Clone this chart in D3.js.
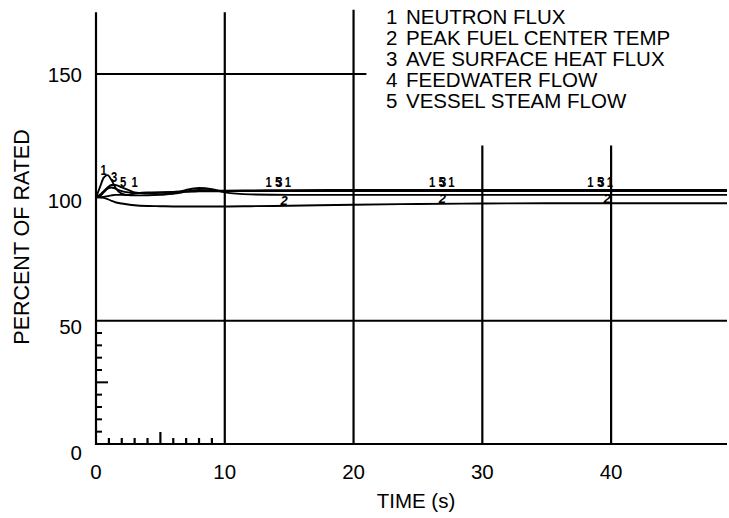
<!DOCTYPE html>
<html>
<head>
<meta charset="utf-8">
<style>
  body { margin: 0; background: #fff; }
  text { font-family: "Liberation Sans", Arial, sans-serif; fill: #000; }
</style>
</head>
<body>
<svg id="chart"></svg>
<script src="https://d3js.org/d3.v7.min.js"></script>
<script>
const width = 729;
const height = 518;

// time points (s) shared by every curve
const time = [0, 0.3, 0.6, 0.9, 1.2, 1.5, 2, 2.5, 3, 4, 5, 6, 7, 8, 9, 10, 12, 15, 20, 25, 30, 35, 40, 45, 49];

// percent of rated
const neutronFlux   = [100, 104, 108, 109, 107, 104, 101.5, 101, 101.5, 102, 102, 102.2, 102.4, 102.5, 102.6, 102.7, 102.8, 102.9, 103, 103, 103, 103, 103, 103, 103];
const peakFuelTemp  = [100, 100, 99.8, 99.3, 98.6, 98, 97.5, 97.1, 96.8, 96.5, 96.4, 96.3, 96.3, 96.3, 96.3, 96.3, 96.4, 96.6, 97, 97.3, 97.5, 97.6, 97.6, 97.6, 97.6];
const heatFlux      = [100, 100.5, 102, 103.5, 104, 103.5, 102.5, 102, 101.8, 101.8, 102, 102.2, 102.3, 102.4, 102.4, 102.5, 102.5, 102.6, 102.6, 102.7, 102.7, 102.7, 102.7, 102.7, 102.7];
const feedwaterFlow = [100, 100, 100.2, 100.5, 100.8, 101, 101, 100.9, 100.8, 100.8, 101, 101.5, 103, 103.8, 103.3, 102, 101.2, 101, 101, 101, 101, 101, 101, 101, 101];
const steamFlow     = [100, 101, 102.5, 104, 105, 105, 104, 103, 102, 101.5, 101.3, 101.5, 102.3, 103, 102.8, 102.5, 102.5, 102.5, 102.5, 102.5, 102.5, 102.5, 102.5, 102.5, 102.5];

const legendLabels = ["NEUTRON FLUX", "PEAK FUEL CENTER TEMP", "AVE SURFACE HEAT FLUX", "FEEDWATER FLOW", "VESSEL STEAM FLOW"];

// curve number tags drawn along the traces
const tagTimes  = [13.4, 26.1, 38.4];
const tagTimes2 = [14.6, 26.9, 39.7];

const xTicks = [0, 10, 20, 30, 40];
const yTicks = [0, 50, 100, 150];

// grid segments as drawn on the original sheet
const vGrid    = [0, 10, 20, 30, 40];
const vGridTop = [175, 175, 176, 121, 121];
const hGrid    = [0, 50, 150];
const hGridEnd = [49, 49, 21];

const series = [neutronFlux, peakFuelTemp, heatFlux, feedwaterFlow, steamFlow];

const svg = d3.select('#chart').attr('width', width).attr('height', height);

const x = d3.scaleLinear().domain([0, 49]).range([96, 727]);
const y = d3.scaleLinear().domain([0, 150]).range([444, 74]);
const yLabel = d3.scaleLinear().domain([0, 150]).range([453, 75]);
const fs = 20.5;

// grid
svg.selectAll('.vgrid').data(vGrid).enter().append('line')
    .attr('x1', d => x(d)).attr('x2', d => x(d))
    .attr('y1', y(0) + 1).attr('y2', (d, i) => y(vGridTop[i]))
    .attr('stroke', '#000').attr('stroke-width', 2.2);
svg.selectAll('.hgrid').data(hGrid).enter().append('line')
    .attr('x1', x(0)).attr('x2', (d, i) => x(hGridEnd[i]))
    .attr('y1', d => y(d)).attr('y2', d => y(d))
    .attr('stroke', '#000').attr('stroke-width', 2);

// minor ticks
const minorY = d3.range(5, 50, 5);
svg.selectAll('.ytick').data(minorY).enter().append('line')
    .attr('x1', x(0)).attr('x2', d => x(0) + (d === 25 ? 12 : 6))
    .attr('y1', d => y(d)).attr('y2', d => y(d))
    .attr('stroke', '#000').attr('stroke-width', 2);
const minorX = d3.range(1, 10);
svg.selectAll('.xtick').data(minorX).enter().append('line')
    .attr('x1', d => x(d)).attr('x2', d => x(d))
    .attr('y1', y(0)).attr('y2', d => y(0) - (d === 5 ? 12 : 6))
    .attr('stroke', '#000').attr('stroke-width', 2.2);

// tick labels
svg.selectAll('.xlab').data(xTicks).enter().append('text')
    .attr('x', d => x(d)).attr('y', 479)
    .attr('text-anchor', 'middle').attr('font-size', fs)
    .text(d => d);
svg.selectAll('.ylab').data(yTicks).enter().append('text')
    .attr('x', 82).attr('y', d => yLabel(d)).attr('dy', '0.35em')
    .attr('text-anchor', 'end').attr('font-size', fs)
    .text(d => d);

svg.append('text').attr('x', 416).attr('y', 508)
    .attr('text-anchor', 'middle').attr('font-size', fs)
    .text('TIME (s)');
svg.append('text')
    .attr('transform', 'translate(29,237) rotate(-90)')
    .attr('text-anchor', 'middle').attr('font-size', 21.5)
    .text('PERCENT OF RATED');

// curves
const line = d3.line()
    .x((d, i) => x(time[i]))
    .y(d => y(d))
    .curve(d3.curveMonotoneX);
svg.selectAll('.curve').data(series).enter().append('path')
    .attr('d', d => line(d))
    .attr('fill', 'none').attr('stroke', '#000').attr('stroke-width', 1.9);

// curve number tags
const valueAt = (s, t) => {
  const i = d3.bisectLeft(time, t);
  if (i <= 0) return s[0];
  const t0 = time[i - 1], t1 = time[i];
  return s[i - 1] + (s[i] - s[i - 1]) * (t - t0) / (t1 - t0);
};
const tags = [];
tagTimes.forEach(t => {
  tags.push({ n: 1, t: t });
  tags.push({ n: 5, t: t + 0.75 });
  tags.push({ n: 3, t: t + 0.85 });
  tags.push({ n: 1, t: t + 1.5 });
});
[[0.6, 1], [1.4, 3], [2.1, 5], [3.0, 1]].forEach(p => tags.push({ n: p[1], t: p[0] }));
svg.selectAll('.tag').data(tags).enter().append('text')
    .attr('x', d => x(d.t))
    .attr('y', d => y(Math.max(valueAt(neutronFlux, d.t), 103)) - 3)
    .attr('font-size', 15).attr('font-weight', 'bold').attr('text-anchor', 'middle')
    .attr('transform', d => `translate(${x(d.t)},0) scale(0.75,1) translate(${-x(d.t)},0)`)
    .text(d => d.n);
svg.selectAll('.tag2').data(tagTimes2).enter().append('text')
    .attr('x', d => x(d))
    .attr('y', d => y(valueAt(peakFuelTemp, d)) - 0.5)
    .attr('font-size', 13).attr('font-weight', 'bold').attr('text-anchor', 'middle')
    .attr('font-style', 'italic')
    .text('2');

// legend
const legend = svg.append('g');
legend.selectAll('.lnum').data(legendLabels).enter().append('text')
    .attr('x', 386).attr('y', (d, i) => 17 + i * 21).attr('dy', '0.35em')
    .attr('font-size', fs).text((d, i) => i + 1);
legend.selectAll('.ltxt').data(legendLabels).enter().append('text')
    .attr('x', 406).attr('y', (d, i) => 17 + i * 21).attr('dy', '0.35em')
    .attr('font-size', fs).text(d => d);
</script>
</body>
</html>
